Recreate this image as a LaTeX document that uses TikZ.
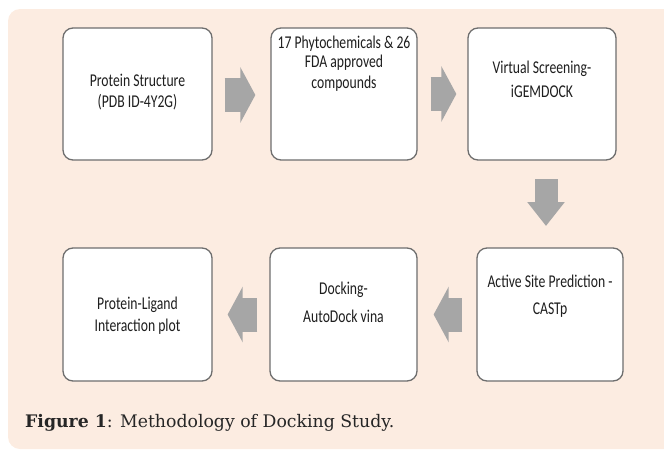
\documentclass[tikz,border=0pt]{standalone}
\usepackage{fontspec}
\setmainfont{DejaVu Serif}
\newfontfamily\boxfont[FakeStretch=0.76]{Carlito}
\usetikzlibrary{arrows.meta,calc}
\definecolor{bgc}{HTML}{FCECE1}
\definecolor{boxline}{HTML}{6E6E6E}
\definecolor{arrowc}{HTML}{A6A6A6}
\definecolor{txt}{HTML}{1E1E1E}
\begin{document}
\begin{tikzpicture}[x=1pt,y=-1pt,
  stepbox/.style={draw=boxline,fill=white,line width=1.3pt,rounded corners=10pt,inner sep=0pt},
  steptext/.style={font=\boxfont\fontsize{18}{21}\selectfont,text=txt,align=center,inner sep=0pt},
  blockarrow/.style={draw=arrowc,line width=34pt,-{Triangle[length=15pt,width=55pt]}},
  blockarrowv/.style={draw=arrowc,line width=23pt,-{Triangle[length=24pt,width=36pt]}}]
\useasboundingbox (0,0) rectangle (664,450);
\clip (0,0) rectangle (664,450);
\fill[bgc,rounded corners=12pt] (8,9) rectangle (690,449);
% boxes
\node[stepbox,minimum width=149pt,minimum height=132pt] (b1) at (137.5,94) {};
\node[stepbox,minimum width=146pt,minimum height=132pt] (b2) at (344,94) {};
\node[stepbox,minimum width=148pt,minimum height=132pt] (b3) at (542,94) {};
\node[stepbox,minimum width=146pt,minimum height=133pt] (b4) at (550,314.5) {};
\node[stepbox,minimum width=147pt,minimum height=133pt] (b5) at (343.5,314.5) {};
\node[stepbox,minimum width=149pt,minimum height=133pt] (b6) at (137.5,314.5) {};
% texts
\node[steptext] (t1) at (137.5,92) {Protein Structure\\[0pt](PDB ID-4Y2G)};
\node[steptext,anchor=north] (t2) at (344,36) {17 Phytochemicals \& 26\\[-2pt]FDA approved\\[0pt]compounds};
\node[steptext] (t3) at (542,79) {Virtual Screening-\\[3pt]iGEMDOCK};
\node[steptext] (t4) at (550,296.5) {Active Site Prediction -\\[6pt]CASTp};
\node[steptext] (t5) at (343.5,302) {Docking-\\[7pt]AutoDock vina};
\node[steptext] (t6) at (137.5,316) {Protein-Ligand\\[1pt]Interaction plot};
% arrows
\draw[blockarrow] ($(b1.east)+(12,1)$) -- ($(b2.west)+(-15,1)$);
\draw[blockarrow] ($(b2.east)+(13,0)$) -- ($(b3.west)+(-11,0)$);
\coordinate (d1) at (546,179);
\coordinate (d2) at (546,226);
\draw[blockarrowv] (d1) -- (d2);
\draw[blockarrow] ($(b4.west)+(-14,0)$) -- ($(b5.east)+(16,0)$);
\draw[blockarrow] ($(b5.west)+(-12,0)$) -- ($(b6.east)+(15,0)$);
% caption
\node[anchor=base west,inner sep=0pt,font=\fontsize{17.3}{20}\selectfont,text=black!85] (cap) at (25,427) {\textbf{Figure 1}: Methodology of Docking Study.};
\end{tikzpicture}
\end{document}
